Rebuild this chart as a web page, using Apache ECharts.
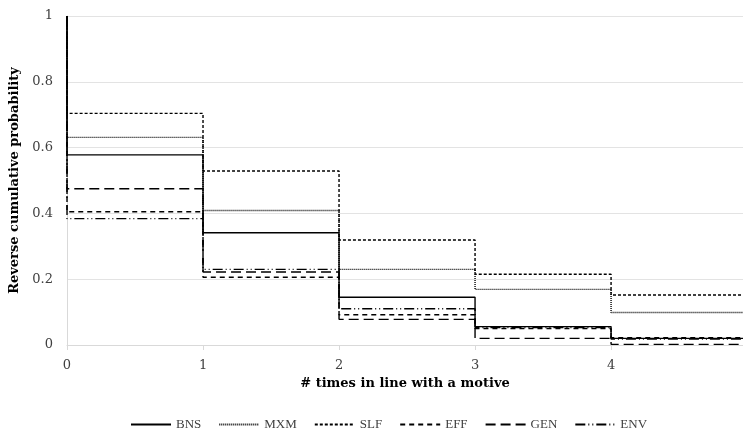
<!DOCTYPE html>
<html><head><meta charset="utf-8">
<script src="https://cdn.jsdelivr.net/npm/echarts@6/dist/echarts.min.js"></script>
<style>html,body{margin:0;padding:0;background:#fff}#c{width:743px;height:439px}</style>
</head><body><div id="c"></div>
<script>
const xs = [0, 1, 2, 3, 4, 5];
const startValue = 1;
const BNS = [0.578, 0.341, 0.145, 0.056, 0.020];
const MXM = [0.631, 0.409, 0.230, 0.169, 0.099];
const SLF = [0.704, 0.529, 0.319, 0.215, 0.152];
const EFF = [0.405, 0.206, 0.092, 0.050, 0.022];
const GEN = [0.475, 0.222, 0.078, 0.020, 0.002];
const ENV = [0.384, 0.230, 0.110, 0.053, 0.018];
const names = ['BNS', 'MXM', 'SLF', 'EFF', 'GEN', 'ENV'];
const values = [BNS, MXM, SLF, EFF, GEN, ENV];
const dashes = ['solid', [1, 1], [3, 2], [5, 4], [10, 5], [10, 3, 1, 3, 1, 3]];
const font = '"DejaVu Serif", "Liberation Serif", serif';
const legendFont = '"Liberation Serif", serif';

const series = names.map((n, i) => ({
  name: n,
  type: 'line',
  step: 'start',
  symbol: 'none',
  data: xs.map((x, k) => [x, k === 0 ? startValue : values[i][k - 1]]),
  lineStyle: { color: '#000', width: 1.4, type: dashes[i] },
  itemStyle: { color: '#000' }
}));

const chart = echarts.init(document.getElementById('c'), null, { renderer: 'canvas' });
chart.setOption({
  animation: false,
  backgroundColor: '#fff',
  grid: { left: 67, right: 0, top: 16, bottom: 94, containLabel: false },
  xAxis: {
    type: 'value', min: 0, max: 4.97, interval: 1,
    name: '# times in line with a motive', nameLocation: 'middle', nameGap: 32,
    nameTextStyle: { fontFamily: font, fontWeight: 'bold', fontSize: 13, color: '#000' },
    axisLine: { lineStyle: { color: '#d9d9d9' } },
    axisTick: { show: true, length: 5, lineStyle: { color: '#d9d9d9' } },
    splitLine: { show: false },
    axisLabel: { fontFamily: font, fontSize: 13, color: '#404040', margin: 14,
      showMaxLabel: false,
      formatter: v => (Number.isInteger(v) && v < 5 ? String(v) : '') }
  },
  yAxis: {
    type: 'value', min: 0, max: 1, interval: 0.2,
    name: 'Reverse cumulative probability', nameLocation: 'middle', nameGap: 42,
    nameTextStyle: { fontFamily: font, fontWeight: 'bold', fontSize: 13, color: '#000' },
    axisLine: { show: true, lineStyle: { color: '#d9d9d9' } },
    axisTick: { show: false },
    splitLine: { lineStyle: { color: '#e3e3e3' } },
    axisLabel: { fontFamily: font, fontSize: 13, color: '#404040', margin: 14 }
  },
  legend: {
    bottom: 3, left: 125,
    itemWidth: 40, itemHeight: 10, itemGap: 17,
    itemStyle: { opacity: 0 },
    textStyle: { fontFamily: legendFont, fontSize: 13, color: '#404040' },
    data: names
  },
  series: series
});
</script></body></html>
